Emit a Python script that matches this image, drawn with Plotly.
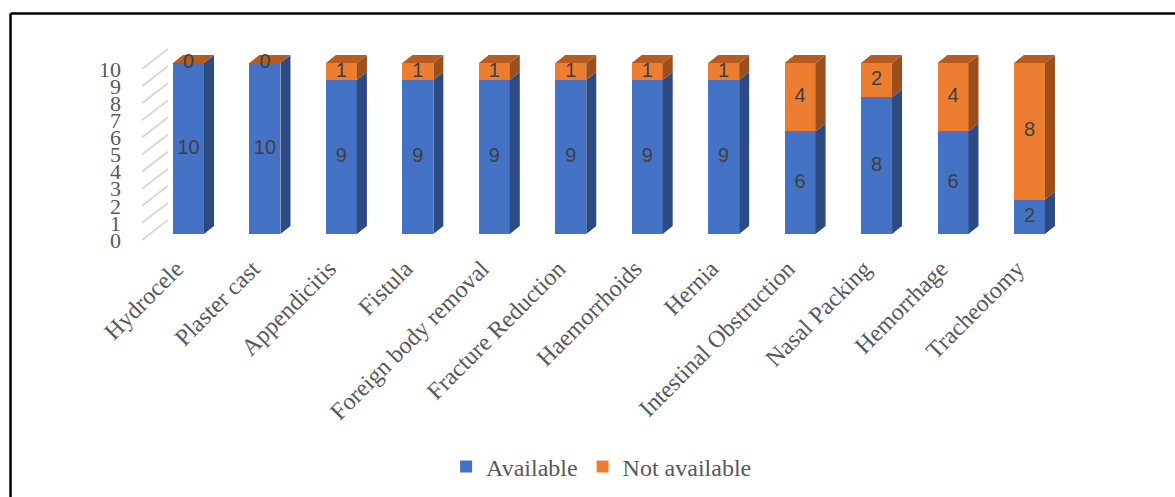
import plotly.graph_objects as go

# ---------------- data ----------------
categories = ["Hydrocele", "Plaster cast", "Appendicitis", "Fistula",
              "Foreign body removal", "Fracture Reduction", "Haemorrhoids",
              "Hernia", "Intestinal Obstruction", "Nasal Packing",
              "Hemorrhage", "Tracheotomy"]
available = [10, 10, 9, 9, 9, 9, 9, 9, 6, 8, 6, 2]
not_available = [0, 0, 1, 1, 1, 1, 1, 1, 4, 2, 4, 8]
y_ticks = list(range(0, 11))

# ---------------- layout geometry (pixels) ----------------
W, H = 1175, 497
XL, XR = 168, 1087          # plot area (back wall) left/right
YT, YB = 40, 245            # plot area top/bottom
C0, SLOT = 188.5, 76.45     # first category centre, category spacing
PY = 17.1                   # pixels per unit
ZERO_BAR, ZERO_WALL, ZERO_FLOOR = 234, 220, 240
BAR_W = 31 / SLOT
DX, DY = 10 / SLOT, 8 / PY
LABEL_SHIFT = 0.16          # x tick labels sit slightly left of bar centres

def yrange(zero_px):
    return [(zero_px - YB) / PY, (zero_px - YT) / PY]

BLUE, ORANGE = "#4472C4", "#ED7D31"
BLUE_SIDE, ORANGE_SIDE, ORANGE_TOP = "#2C4B82", "#9C4F1C", "#B85B1E"
GREY_TXT = "#595959"
SERIF = "Liberation Serif"

idx = list(range(len(categories)))
fig = go.Figure()

fig.add_trace(go.Bar(x=idx, y=available, name="Available", marker_color=BLUE,
                     width=BAR_W, marker_line_width=0, hoverinfo="skip"))
fig.add_trace(go.Bar(x=idx, y=not_available, name="Not available", marker_color=ORANGE,
                     width=BAR_W, marker_line_width=0, hoverinfo="skip"))

# 3D side faces
def side_faces(bases, vals):
    xs, ys = [], []
    for i, b, v in zip(idx, bases, vals):
        t = b + v
        xr = i + BAR_W / 2
        xs += [xr, xr + DX, xr + DX, xr, xr, None]
        ys += [b, b + DY, t + DY, t, b, None]
    return xs, ys

bx, by = side_faces([0] * len(idx), available)
fig.add_trace(go.Scatter(x=bx, y=by, mode="lines", fill="toself", fillcolor=BLUE_SIDE,
                         line=dict(width=0, color=BLUE_SIDE), showlegend=False, hoverinfo="skip"))
ox, oy = side_faces(available, not_available)
fig.add_trace(go.Scatter(x=ox, y=oy, mode="lines", fill="toself", fillcolor=ORANGE_SIDE,
                         line=dict(width=0, color=ORANGE_SIDE), showlegend=False, hoverinfo="skip"))

# top faces
tx, ty = [], []
for i, a, n in zip(idx, available, not_available):
    T = a + n
    xl, xr = i - BAR_W / 2, i + BAR_W / 2
    tx += [xl, xl + DX, xr + DX, xr, xl, None]
    ty += [T, T + DY, T + DY, T, T, None]
fig.add_trace(go.Scatter(x=tx, y=ty, mode="lines", fill="toself", fillcolor=ORANGE_TOP,
                         line=dict(width=0, color=ORANGE_TOP), showlegend=False, hoverinfo="skip"))

# data labels
lx = idx + idx
ly = [a / 2 for a in available] + [a + n / 2 for a, n in zip(available, not_available)]
lt = [str(v) for v in available] + [str(v) for v in not_available]
fig.add_trace(go.Scatter(x=lx, y=ly, text=lt, mode="text", showlegend=False, hoverinfo="skip",
                         textfont=dict(family="Liberation Sans", size=20, color="#404040"),
                         cliponaxis=False))

# diagonal gridlines from front floor to back wall
shapes = []
for v in y_ticks:
    shapes.append(dict(type="line", xref="paper", yref="y2",
                       x0=142 / W, x1=XL / W, y0=v, y1=v + (ZERO_FLOOR - ZERO_WALL) / PY,
                       line=dict(color="#D9D9D9", width=2), layer="below"))
# frame
shapes.append(dict(type="line", xref="paper", yref="paper", x0=10.5 / W, x1=1, y0=1 - 13.5 / H, y1=1 - 13.5 / H,
                   line=dict(color="black", width=2.5)))
shapes.append(dict(type="line", xref="paper", yref="paper", x0=10.5 / W, x1=10.5 / W, y0=0, y1=1 - 13.5 / H,
                   line=dict(color="black", width=2.5)))

tick_pos = [i - LABEL_SHIFT for i in idx]

dom_y = [1 - YB / H, 1 - YT / H]
fig.update_layout(
    width=W, height=H, autosize=False,
    margin=dict(l=0, r=0, t=0, b=0, autoexpand=False),
    paper_bgcolor="white", plot_bgcolor="rgba(0,0,0,0)",
    barmode="stack",
    showlegend=True,
    legend=dict(orientation="h", x=0.512, xanchor="center", y=1 - 467 / H, yanchor="middle",
                traceorder="normal",
                font=dict(family=SERIF, size=24, color=GREY_TXT), bgcolor="rgba(0,0,0,0)"),
    xaxis=dict(domain=[XL / W, XR / W], range=[(XL - C0) / SLOT, (XR - C0) / SLOT],
               tickvals=tick_pos, ticktext=categories, tickangle=-45,
               tickfont=dict(family=SERIF, size=24, color=GREY_TXT),
               showgrid=False, zeroline=False, showline=False, ticks="",
               ticklabelstandoff=4, anchor="y", automargin=False),
    yaxis=dict(domain=dom_y, range=yrange(ZERO_BAR), showgrid=False, zeroline=False,
               showticklabels=False, showline=False, automargin=False),
    yaxis2=dict(overlaying="y", anchor="free", position=121 / W, side="left",
                range=yrange(ZERO_FLOOR), tickvals=y_ticks,
                tickfont=dict(family=SERIF, size=22, color=GREY_TXT),
                showgrid=False, zeroline=False, showline=False, ticks="", automargin=False),
    yaxis3=dict(overlaying="y", anchor="x", range=yrange(ZERO_WALL), tickvals=y_ticks,
                showticklabels=False, showgrid=True, gridcolor="#D9D9D9", gridwidth=2,
                zeroline=False, showline=False, ticks="", automargin=False),
    shapes=shapes,
)

fig.write_html("out.html", config={"displayModeBar": False},
               post_script="document.body.style.margin='0';")
